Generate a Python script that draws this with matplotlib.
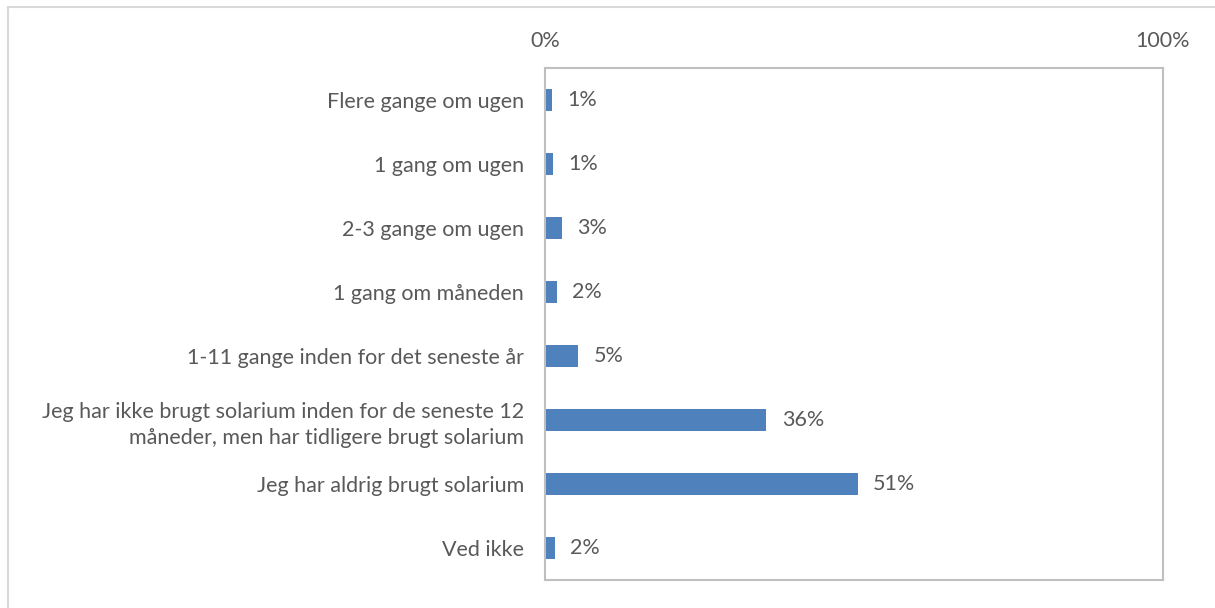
import matplotlib.pyplot as plt
from matplotlib.patches import Rectangle

categories = ['Flere gange om ugen',
              '1 gang om ugen',
              '2-3 gange om ugen',
              '1 gang om måneden',
              '1-11 gange inden for det seneste år',
              'Jeg har ikke brugt solarium inden for de seneste 12\nmåneder, men har tidligere brugt solarium',
              'Jeg har aldrig brugt solarium',
              'Ved ikke']
values = [1.1, 1.3, 2.7, 1.9, 5.4, 35.8, 50.6, 1.6]
value_labels = ['1%', '1%', '3%', '2%', '5%', '36%', '51%', '2%']
tick_labels = ['0%', '100%']

plt.rcParams['font.family'] = ['Lato', 'DejaVu Sans']
txt = '#595959'
fs = 15.5

fig = plt.figure(figsize=(12.15, 6.08), dpi=100)
ax = fig.add_axes([545/1215, 1-580/608, (1163-545)/1215, 512/608])

# outer chart frame
fig.patches.append(Rectangle((8/1215, -0.1), 1.2, 1-7/608+0.1, transform=fig.transFigure,
                             fill=False, edgecolor='#d9d9d9', linewidth=1.5))

y = list(range(len(categories)))
ax.barh(y, values, height=0.35, color='#4f81bd')
for yi, v, lab in zip(y, values, value_labels):
    ax.text(v + 2.5, yi, lab, va='center', ha='left', fontsize=fs, color=txt)

ax.set_xlim(0, 100)
ax.set_ylim(len(categories) - 0.5, -0.5)
ax.set_xticks([0, 100])
ax.set_xticklabels(tick_labels)
ax.xaxis.tick_top()
ax.tick_params(axis='x', length=0, pad=12, labelsize=fs, labelcolor=txt)
ax.set_yticks(y)
ax.set_yticklabels(categories, fontsize=fs, color=txt, ha='right', linespacing=1.4)
ax.tick_params(axis='y', length=0, pad=15)
for s in ax.spines.values():
    s.set_color('#bfbfbf')
    s.set_linewidth(1.5)

fig.savefig('out.png', dpi=100)
